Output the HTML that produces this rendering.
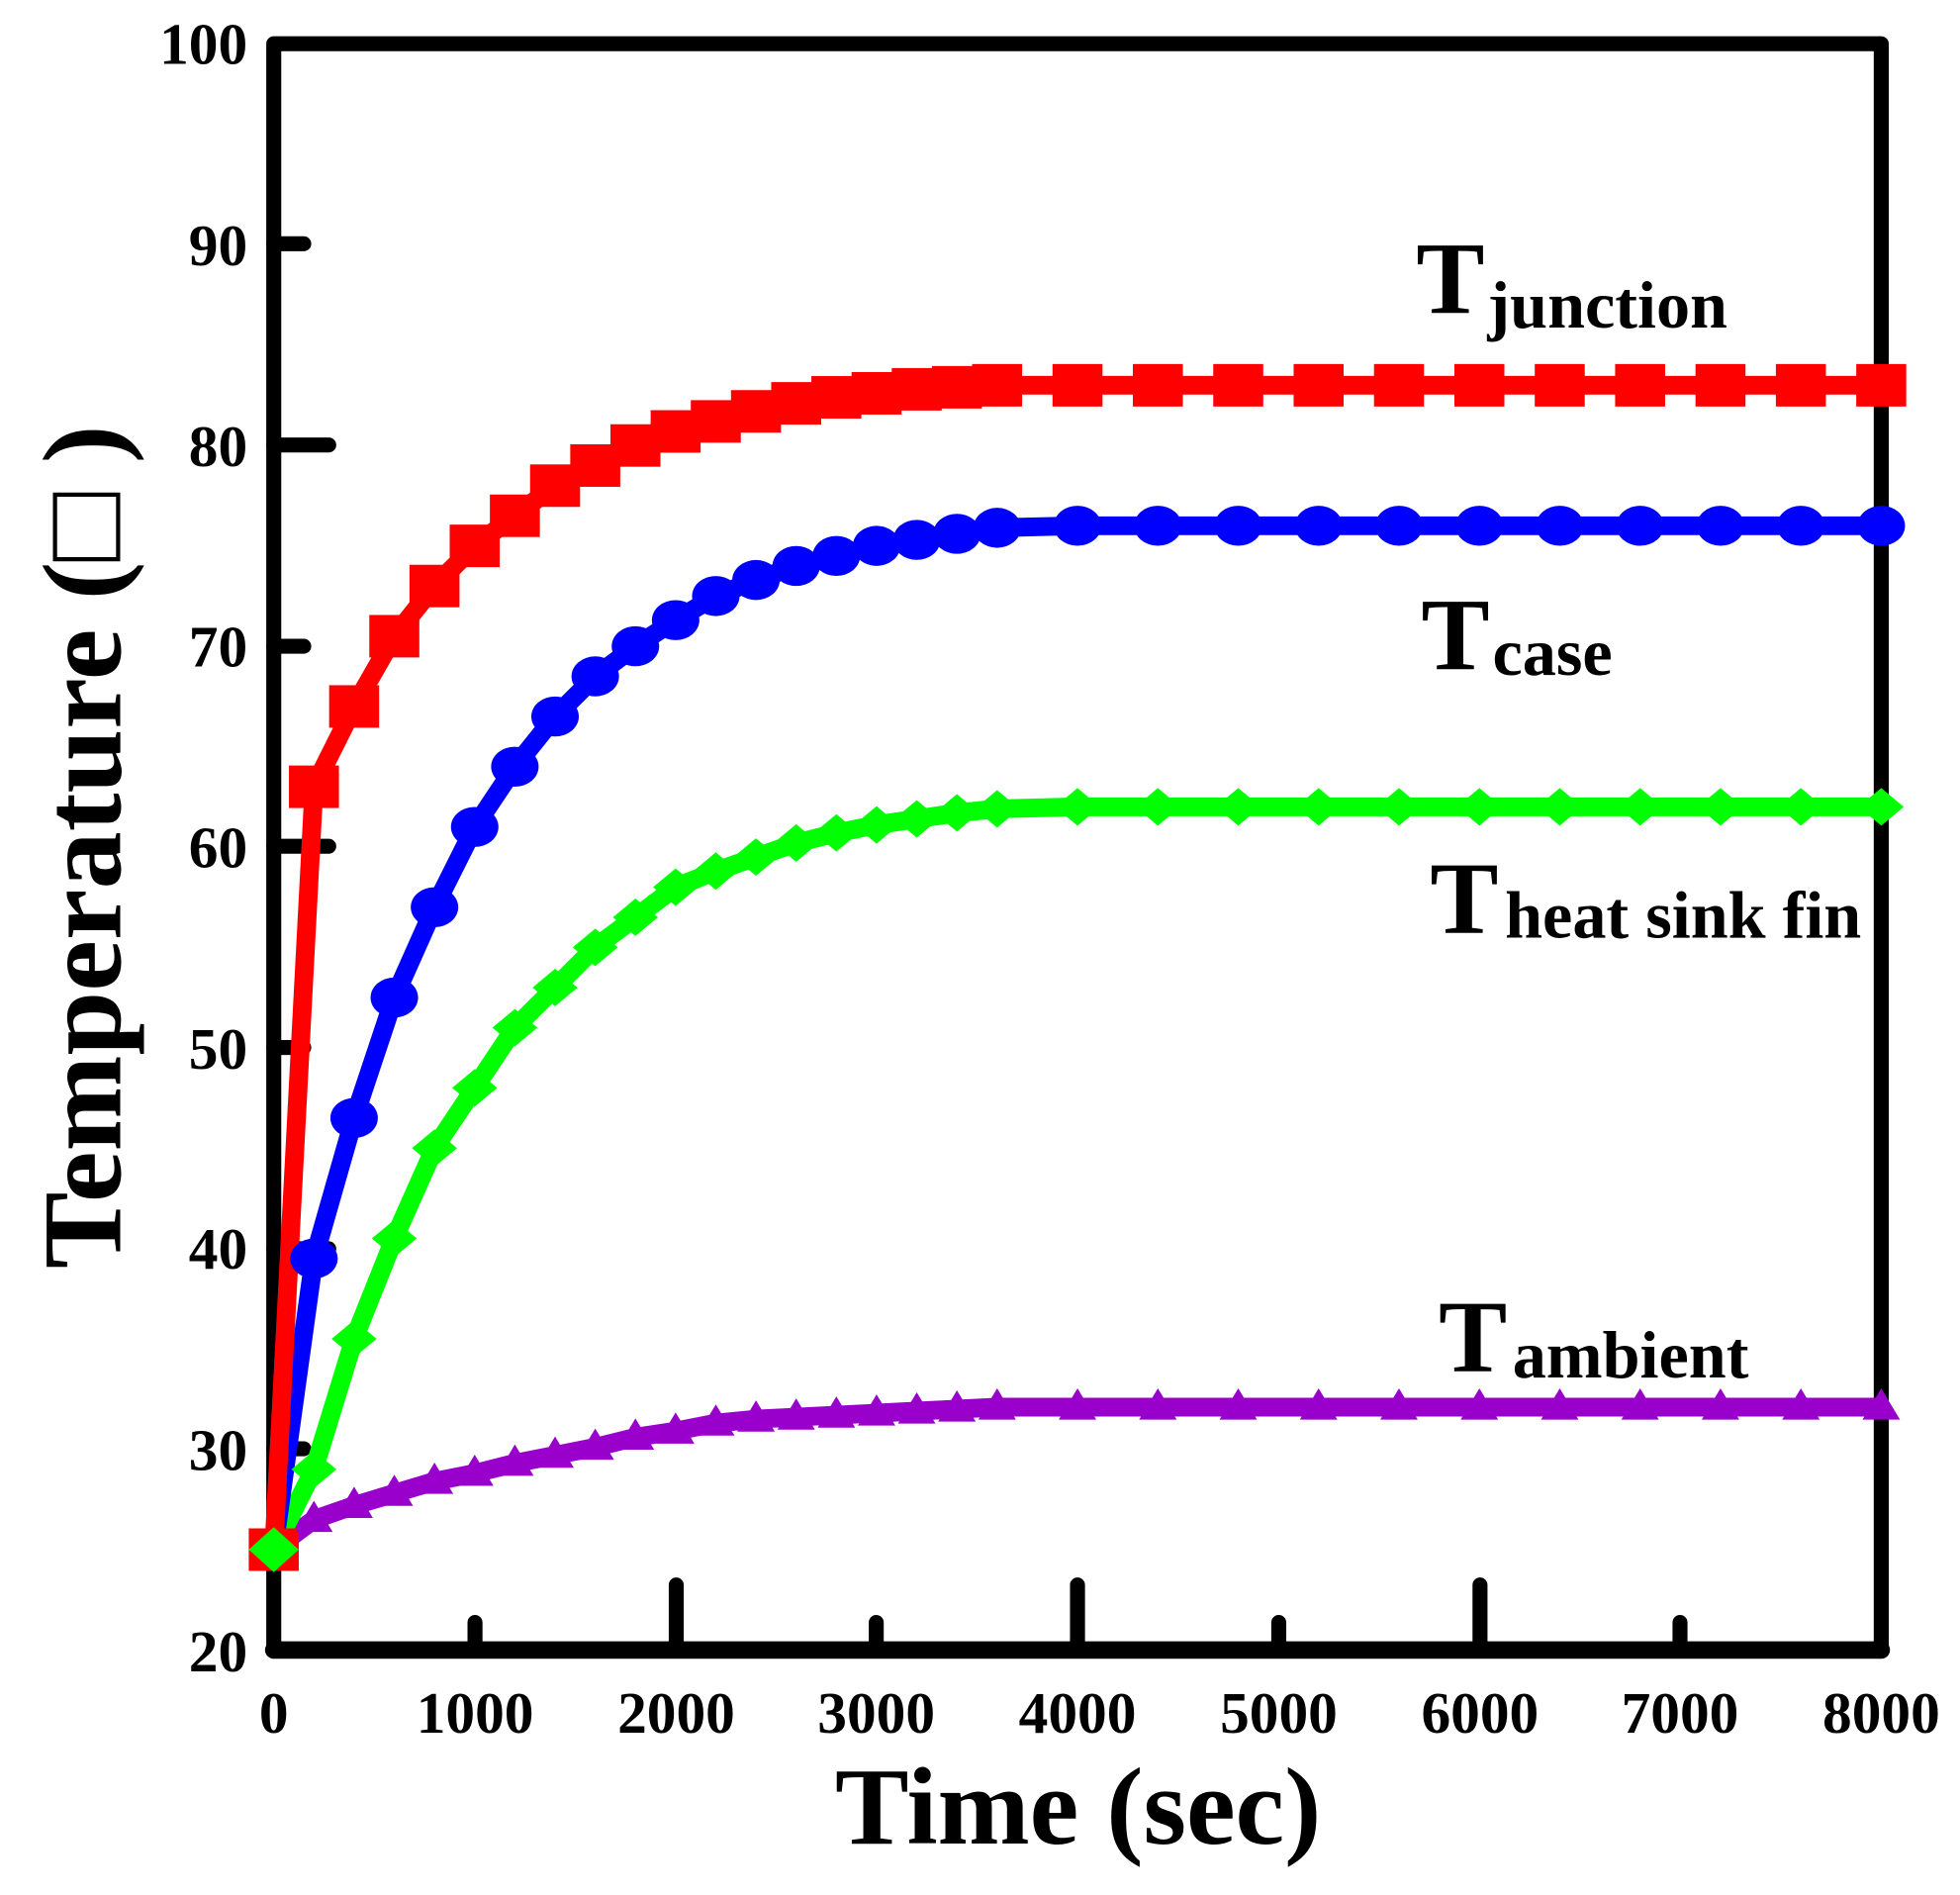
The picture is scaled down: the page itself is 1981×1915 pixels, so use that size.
<!DOCTYPE html>
<html><head><meta charset="utf-8"><style>
html,body{margin:0;padding:0;background:#fff;}
svg{display:block;}
text{font-family:"Liberation Serif","DejaVu Serif",serif;font-weight:bold;fill:#000;}
</style></head><body>
<svg width="1981" height="1915" viewBox="0 0 1568 1516" preserveAspectRatio="none" xmlns="http://www.w3.org/2000/svg">
<rect width="1568" height="1516" fill="#fff"/>
<g stroke="#000" stroke-width="12" stroke-linecap="round" fill="none">
<rect x="219" y="35" width="1286" height="1285" stroke-linejoin="round"/>
<line x1="219" y1="1320" x2="1505" y2="1320" stroke-width="14"/>
<line x1="219" y1="195" x2="243" y2="195"/>
<line x1="219" y1="356" x2="263" y2="356"/>
<line x1="219" y1="517" x2="243" y2="517"/>
<line x1="219" y1="677" x2="263" y2="677"/>
<line x1="219" y1="838" x2="243" y2="838"/>
<line x1="219" y1="999" x2="263" y2="999"/>
<line x1="219" y1="1159" x2="243" y2="1159"/>
<line x1="380" y1="1320" x2="380" y2="1298"/>
<line x1="541" y1="1320" x2="541" y2="1268"/>
<line x1="701" y1="1320" x2="701" y2="1298"/>
<line x1="862" y1="1320" x2="862" y2="1268"/>
<line x1="1023" y1="1320" x2="1023" y2="1298"/>
<line x1="1184" y1="1320" x2="1184" y2="1268"/>
<line x1="1344" y1="1320" x2="1344" y2="1298"/>
</g>
<g font-size="47" text-anchor="end">
<text x="198" y="51">100</text><text x="198" y="212">90</text><text x="198" y="373">80</text><text x="198" y="533">70</text><text x="198" y="694">60</text><text x="198" y="855">50</text><text x="198" y="1015">40</text><text x="198" y="1176">30</text><text x="198" y="1337">20</text>
</g>
<g font-size="47" text-anchor="middle">
<text x="219" y="1386">0</text><text x="380" y="1386">1000</text><text x="541" y="1386">2000</text><text x="701" y="1386">3000</text><text x="862" y="1386">4000</text><text x="1023" y="1386">5000</text><text x="1184" y="1386">6000</text><text x="1344" y="1386">7000</text><text x="1505" y="1386">8000</text>
</g>
<text x="668" y="1475" font-size="88" textLength="389" lengthAdjust="spacingAndGlyphs">Time (sec)</text>
<text transform="translate(96,1015) rotate(-90)" font-size="90" textLength="675" lengthAdjust="spacingAndGlyphs">Temperature (□ )</text>
<g font-size="82"><text x="1133" y="250">T</text><text x="1137" y="535">T</text><text x="1144" y="746">T</text><text x="1151" y="1097">T</text></g>
<g font-size="54"><text x="1190" y="262">junction</text><text x="1194" y="540">case</text><text x="1204" y="750">heat sink fin</text><text x="1210" y="1102">ambient</text></g>
<g id="series"></g>
</svg>
<script>
var X=function(t){return 219+t*0.16075;},Y=function(v){return 1320-(v-20)*16.06;};
var ts=[0,200,400,600,800,1000,1200,1400,1600,1800,2000,2200,2400,2600,2800,3000,3200,3400,3600,4000,4400,4800,5200,5600,6000,6400,6800,7200,7600,8000];
function ext(a,v){while(a.length<ts.length)a.push(v);return a;}
var R=ext([25,63,67,70.5,73,75,76.5,78,79,80,80.7,81.2,81.7,82.1,82.4,82.6,82.8,82.9,83],83);
var B=ext([25,39.5,46.5,52.5,57,61,64,66.5,68.5,70,71.3,72.5,73.3,74,74.5,75,75.3,75.6,75.9],76);
var G=ext([25,29,35.5,40.5,45,48,51,53,55,56.5,58,58.8,59.5,60.2,60.7,61.1,61.4,61.7,61.9],62);
var P=ext([25,26.5,27.2,27.8,28.4,28.8,29.3,29.7,30.1,30.6,30.9,31.3,31.5,31.6,31.7,31.8,31.9,32,32.1],32.1);
var s='';
function line(d,c){var p=ts.map(function(t,i){return X(t).toFixed(1)+','+Y(d[i]).toFixed(1)}).join(' ');s+='<polyline points="'+p+'" fill="none" stroke="'+c+'" stroke-width="15" stroke-linejoin="round"/>';}
line(P,'#9900cc');line(G,'#00ff00');line(B,'#0000ff');line(R,'#ff0000');
ts.forEach(function(t,i){var x=X(t),y;
y=Y(P[i]);s+='<polygon points="'+x+','+(y-15)+' '+(x-15)+','+(y+10)+' '+(x+15)+','+(y+10)+'" fill="#9900cc"/>';
y=Y(G[i]);s+='<polygon points="'+x+','+(y-15)+' '+(x+18)+','+y+' '+x+','+(y+15)+' '+(x-18)+','+y+'" fill="#00ff00"/>';
y=Y(B[i]);s+='<ellipse cx="'+x+'" cy="'+y+'" rx="19" ry="16" fill="#0000ff"/>';
y=Y(R[i]);s+='<rect x="'+(x-20)+'" y="'+(y-17)+'" width="40" height="34" fill="#ff0000"/>';});
var x0=X(0),y0=Y(25);
s+='<polygon points="'+x0+','+(y0-18)+' '+(x0+20)+','+y0+' '+x0+','+(y0+18)+' '+(x0-20)+','+y0+'" fill="#00ff00"/>';
document.getElementById('series').innerHTML=s;
</script>
</body></html>
